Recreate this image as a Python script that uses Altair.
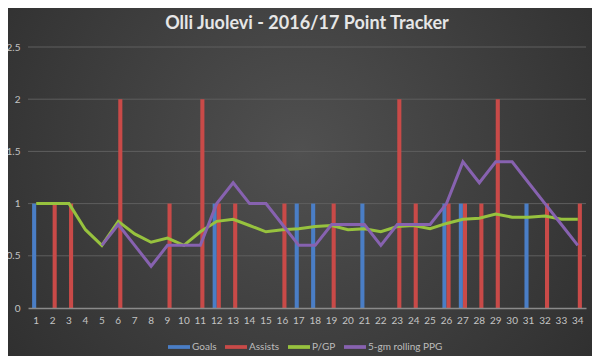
import altair as alt
import pandas as pd

games = [1, 2, 3, 4, 5, 6, 7, 8, 9, 10, 11, 12, 13, 14, 15, 16, 17,
         18, 19, 20, 21, 22, 23, 24, 25, 26, 27, 28, 29, 30, 31, 32, 33, 34]
goals = [1, 0, 0, 0, 0, 0, 0, 0, 0, 0, 0, 1, 0, 0, 0, 0, 1,
         1, 0, 0, 1, 0, 0, 0, 0, 1, 1, 0, 0, 0, 1, 0, 0, 0]
assists = [0, 1, 1, 0, 0, 2, 0, 0, 1, 0, 2, 1, 1, 0, 0, 1, 0,
           0, 1, 0, 0, 0, 2, 1, 0, 1, 1, 1, 2, 0, 0, 1, 0, 1]
pgp = [1.0, 1.0, 1.0, 0.75, 0.6, 0.83, 0.71, 0.63, 0.67, 0.6, 0.73, 0.83, 0.85, 0.79, 0.73, 0.75, 0.76,
       0.78, 0.79, 0.75, 0.76, 0.73, 0.78, 0.79, 0.76, 0.81, 0.85, 0.86, 0.9, 0.87, 0.87, 0.88, 0.85, 0.85]
rolling = [None, None, None, None, 0.6, 0.8, 0.6, 0.4, 0.6, 0.6, 0.6, 1.0, 1.2, 1.0, 1.0, 0.8, 0.6,
           0.6, 0.8, 0.8, 0.8, 0.6, 0.8, 0.8, 0.8, 1.0, 1.4, 1.2, 1.4, 1.4, 1.2, 1.0, 0.8, 0.6]
y_ticks = [0, 0.5, 1, 1.5, 2, 2.5]

series = ["Goals", "Assists", "P/GP", "5-gm rolling PPG"]
colors = ["#4a7ec6", "#c94a48", "#97c23e", "#8762b0"]

bar_rows = []
for g, v in zip(games, goals):
    if v:
        bar_rows.append({"game": g, "series": "Goals", "value": v})
for g, v in zip(games, assists):
    if v:
        bar_rows.append({"game": g, "series": "Assists", "value": v})
bars_df = pd.DataFrame(bar_rows)

line_rows = []
for g, v in zip(games, pgp):
    line_rows.append({"game": g, "series": "P/GP", "value": v})
for g, v in zip(games, rolling):
    if v is not None:
        line_rows.append({"game": g, "series": "5-gm rolling PPG", "value": v})
lines_df = pd.DataFrame(line_rows)

grid_df = pd.DataFrame({"tick": y_ticks[1:]})

W, H = 558, 261
PAD = {"left": 20, "top": 39, "right": 6, "bottom": 48}

font = "Lato"
xscale = alt.Scale(domain=games, paddingInner=0.5, paddingOuter=0.25)
yscale = alt.Scale(domain=[0, 2.5])
cscale = alt.Scale(domain=series, range=colors)

xaxis = alt.Axis(title=None, labelAngle=0, ticks=False, domainColor="#8a8a8a",
                 domainWidth=1.5, labelColor="#c4c4c4", labelFontSize=10,
                 labelPadding=7, grid=False, labelFont=font, zindex=1)
yaxis = alt.Axis(title=None, values=y_ticks, ticks=False, domain=False, grid=False,
                 labelColor="#c4c4c4", labelFontSize=10, labelPadding=8,
                 labelFont=font, zindex=1,
                 labelExpr="datum.value == 0 ? '0' : format(datum.value, '~g')")

legend = alt.Legend(title=None, orient="none", direction="horizontal",
                    legendX=140, legendY=289,
                    symbolType="M-1,-0.17L1,-0.17L1,0.17L-1,0.17Z", symbolSize=484,
                    symbolStrokeWidth=0, labelColor="#bdbdbd", labelFontSize=10,
                    labelFont=font, columnPadding=8, labelOffset=2)

# decorative radial-gradient backdrop
backdrop = alt.Chart(pd.DataFrame({"k": [0]})).mark_rect(
    clip=False,
    color=alt.RadialGradient(
        gradient="radial", x1=0.5, y1=0.45, r1=0, x2=0.5, y2=0.45, r2=0.72,
        stops=[alt.GradientStop(offset=0, color="#505050"),
               alt.GradientStop(offset=1, color="#2a2a2a")]),
).encode(
    x=alt.value(-PAD["left"]), x2=alt.value(W + PAD["right"]),
    y=alt.value(-PAD["top"]), y2=alt.value(H + PAD["bottom"]),
)

grid = alt.Chart(grid_df).mark_rule(color="#5e5e5e", strokeWidth=1).encode(
    y=alt.Y("tick:Q", scale=yscale, axis=yaxis),
)

bars = alt.Chart(bars_df).mark_bar().encode(
    x=alt.X("game:O", scale=xscale, axis=xaxis, sort=games),
    xOffset=alt.XOffset("series:N", scale=alt.Scale(domain=["Goals", "Assists"], paddingInner=0)),
    y=alt.Y("value:Q", scale=yscale, axis=yaxis),
    color=alt.Color("series:N", scale=cscale, legend=legend, sort=series),
)

lines = alt.Chart(lines_df).mark_line(strokeWidth=3).encode(
    x=alt.X("game:O", scale=xscale, sort=games),
    y=alt.Y("value:Q", scale=yscale),
    color=alt.Color("series:N", scale=cscale, legend=legend, sort=series),
    detail="series:N",
)

chart = alt.layer(backdrop, grid, bars, lines).properties(
    width=W, height=H,
    title=alt.TitleParams("Olli Juolevi - 2016/17 Point Tracker", color="#e6e6e6",
                          fontSize=18, font=font, fontWeight="bold", offset=-25,
                          anchor="middle"),
    background="#3a3a3a",
    padding=PAD,
    autosize=alt.AutoSizeParams(type="none"),
).configure_view(stroke=None)

chart.save("out.html", embed_options={"renderer": "svg", "actions": False})
